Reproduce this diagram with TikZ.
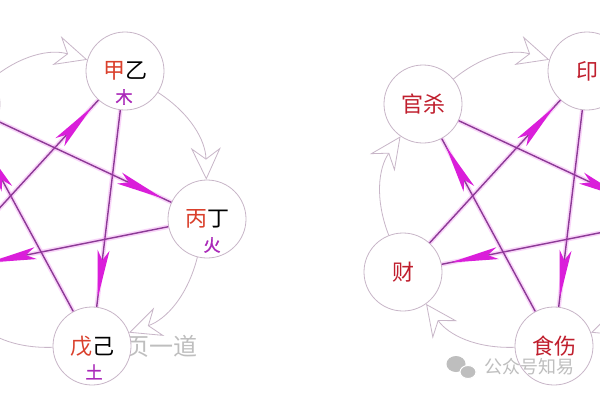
\documentclass[tikz,border=0pt]{standalone}
\usepackage{fontspec}
\setmainfont{Noto Sans CJK SC}
\newfontfamily\elemfont[FakeBold=1.6]{Noto Sans CJK SC}
\usetikzlibrary{arrows.meta,decorations.markings}
\definecolor{ringc}{RGB}{200,182,200}
\definecolor{kecol}{RGB}{140,58,150}
\definecolor{kehead}{RGB}{218,30,218}
\definecolor{glowc}{RGB}{235,90,235}
\definecolor{redA}{RGB}{218,64,44}
\definecolor{redB}{RGB}{192,30,45}
\definecolor{elemc}{RGB}{170,40,185}
\definecolor{wmc}{RGB}{190,190,190}
\begin{document}
\begin{tikzpicture}[x=1pt,y=-1pt,
  el/.style={circle,draw=ringc,line width=0.8pt,fill=white,minimum size=78pt,inner sep=0pt,
             font=\fontsize{22pt}{24pt}\selectfont},
  elr/.style={el,text=redB},
  elemtxt/.style={text=elemc,inner sep=0pt,font=\elemfont\fontsize{17pt}{18pt}\selectfont},
  gen/.style={draw=ringc,line width=0.8pt,
     -{Stealth[length=32pt,width=30pt,inset=11pt,fill=white]}},
  ke/.style={draw=kecol,line width=1.4pt,
     preaction={draw=glowc,opacity=0.25,line width=4.5pt},
     postaction={decorate},
     decoration={markings,mark=at position -9pt with
       {\arrow{Stealth[length=48pt,width=12pt,inset=10pt,color=kehead]}}}},
  wmtxt/.style={text=wmc,inner sep=0pt}
]
\useasboundingbox (0,0) rectangle (600,400);
\fill[white] (0,0) rectangle (600,400);
\clip (0,0) rectangle (600,400);

% left watermark (under the nodes)
\node[wmtxt,font=\fontsize{24pt}{26pt}\selectfont] (wm1) at (161,346) {页一道};

% ---------- left diagram ----------
\node[el] (A) at (125,71) {\textcolor{redA}{甲}乙};
\node[el] (B) at (207,219) {\textcolor{redA}{丙}丁};
\node[el] (C) at (92,346) {\textcolor{redA}{戊}己};
\node[el] (D) at (-59,272) {};
\node[el] (E) at (-39,104) {};
\node[elemtxt] (Ae) at (124,97) {木};
\node[elemtxt] (Be) at (212,245) {火};
\node[elemtxt] (Ce) at (94,372) {土};

\draw[gen] (E) to[bend left=28] (A);
\draw[gen] (A) to[bend left=28] (B);
\draw[gen] (B) to[bend left=28] (C);
\draw[gen] (C) to[bend left=28] (D);
\draw[gen] (D) to[bend left=28] (E);

\draw[ke] (A) -- (C);
\draw[ke] (B) -- (D);
\draw[ke] (C) -- (E);
\draw[ke] (D) -- (A);
\draw[ke] (E) -- (B);

% ---------- right diagram ----------
\node[elr] (A2) at (587,71) {印};
\node[elr] (B2) at (669,219) {};
\node[elr] (C2) at (554,346) {食伤};
\node[elr] (D2) at (403,272) {财};
\node[elr] (E2) at (423,104) {官杀};

\draw[gen] (E2) to[bend left=28] (A2);
\draw[gen] (A2) to[bend left=28] (B2);
\draw[gen] (B2) to[bend left=28] (C2);
\draw[gen] (C2) to[bend left=28] (D2);
\draw[gen] (D2) to[bend left=28] (E2);

\draw[ke] (A2) -- (C2);
\draw[ke] (B2) -- (D2);
\draw[ke] (C2) -- (E2);
\draw[ke] (D2) -- (A2);
\draw[ke] (E2) -- (B2);

% right watermark (on top)
\fill[wmc] (456,364) ellipse[x radius=9.5pt,y radius=8pt];
\fill[wmc,draw=white,line width=1pt] (468,372) ellipse[x radius=8pt,y radius=6.5pt];
\node[wmtxt,font=\fontsize{18pt}{20pt}\selectfont,anchor=west] (wm2) at (484,367) {公众号知易};
\end{tikzpicture}
\end{document}
